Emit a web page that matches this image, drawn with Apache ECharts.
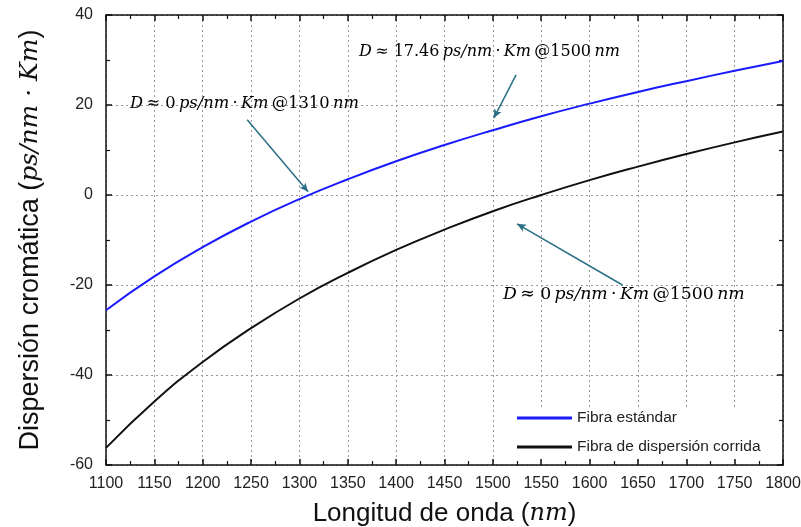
<!DOCTYPE html>
<html>
<head>
<meta charset="utf-8">
<script src="https://cdn.jsdelivr.net/npm/echarts@6/dist/echarts.min.js"></script>
<style>
  html, body { margin: 0; padding: 0; background: #fff; }
  #main { width: 801px; height: 527px; }
</style>
</head>
<body>
<div id="main"></div>
<script>
// longitudes de onda (nm) y curvas
var lambda = [1100, 1150, 1200, 1250, 1300, 1350, 1400, 1450, 1500, 1550, 1600, 1650, 1700, 1750, 1800];
var fibraEstandar = [-25.6, -18.1, -11.6, -5.9, -0.9, 3.5, 7.5, 11.1, 14.4, 17.5, 20.3, 22.9, 25.3, 27.6, 29.8];
var fibraCorrida = [-56.2, -45.9, -37.1, -29.6, -23.0, -17.3, -12.2, -7.7, -3.6, 0.0, 3.3, 6.3, 9.1, 11.7, 14.1];
// flechas de las anotaciones [x0, y0, x1, y1] en unidades de datos
var flechas = [
  [1246, 16.7, 1309, 0.7],
  [1524, 26.7, 1501, 17.1],
  [1634, -20.0, 1525, -6.4]
];

var myChart = echarts.init(document.getElementById('main'));

function pares(xs, ys) {
  return xs.map(function (x, i) { return [x, ys[i]]; });
}

function mathRich(size) {
  return {
    i: { fontFamily: 'DejaVu Serif', fontStyle: 'italic', fontSize: size, color: '#111' },
    n: { fontFamily: 'DejaVu Serif', fontSize: size, color: '#111' }
  };
}

var axisCommon = {
  axisLine: { show: true, onZero: false, lineStyle: { color: '#111', width: 1.5 } },
  axisTick: { show: true, inside: true, length: 6, lineStyle: { color: '#111', width: 1.5 } },
  minorTick: { show: true, splitNumber: 2, length: 4, lineStyle: { color: '#111', width: 1.2 } }
};

var nameStyle = {
  fontFamily: 'Liberation Sans', fontSize: 26, color: '#111',
  rich: { i: { fontFamily: 'DejaVu Serif', fontStyle: 'italic', fontSize: 24, color: '#111' } }
};

option = {
  animation: false,
  backgroundColor: '#fff',
  grid: { left: 106, right: 18, top: 15, bottom: 62, containLabel: false, outerBoundsMode: 'none' },
  legend: {
    orient: 'vertical',
    left: 513,
    top: 407,
    itemWidth: 55,
    itemHeight: 3,
    itemGap: 13,
    icon: 'rect',
    padding: [3, 4, 3, 4],
    backgroundColor: '#fff',
    textStyle: { fontFamily: 'Liberation Sans', fontSize: 15.5, color: '#222' },
    data: ['Fibra estándar', 'Fibra de dispersión corrida']
  },
  xAxis: [
    Object.assign({}, axisCommon, {
      type: 'value', min: 1100, max: 1800, interval: 50,
      name: 'Longitud de onda ({i|nm})',
      nameLocation: 'middle', nameGap: 36,
      nameTextStyle: nameStyle,
      axisLabel: { fontFamily: 'Liberation Sans', fontSize: 16, color: '#222', margin: 11,
        formatter: function (v) { return String(v); } },
      splitLine: { show: true, lineStyle: { color: '#999', type: [2, 3], width: 1 } }
    }),
    Object.assign({}, axisCommon, {
      type: 'value', min: 1100, max: 1800, interval: 50, position: 'top',
      axisLabel: { show: false }, splitLine: { show: false }
    })
  ],
  yAxis: [
    Object.assign({}, axisCommon, {
      type: 'value', min: -60, max: 40, interval: 20,
      name: 'Dispersión cromática ({i|ps/nm · Km})',
      nameLocation: 'middle', nameGap: 62, nameRotate: 90,
      nameTextStyle: Object.assign({}, nameStyle, { fontSize: 27,
        rich: { i: { fontFamily: 'DejaVu Serif', fontStyle: 'italic', fontSize: 25, color: '#111' } } }),
      axisLabel: { fontFamily: 'Liberation Sans', fontSize: 16, color: '#222', margin: 13 },
      splitLine: { show: true, lineStyle: { color: '#999', type: [2, 3], width: 1 } }
    }),
    Object.assign({}, axisCommon, {
      type: 'value', min: -60, max: 40, interval: 20, position: 'right',
      axisLabel: { show: false }, splitLine: { show: false }
    })
  ],
  series: [
    {
      name: 'Fibra estándar',
      type: 'line',
      smooth: true,
      symbol: 'none',
      color: '#1a1aff',
      lineStyle: { width: 2, color: '#1a1aff' },
      data: pares(lambda, fibraEstandar),
      markLine: {
        silent: true,
        symbol: ['none', 'arrow'],
        symbolSize: [6, 9],
        label: { show: false },
        lineStyle: { color: '#2a6f86', width: 1.5, type: 'solid' },
        data: flechas.map(function (f) {
          return [{ coord: [f[0], f[1]] }, { coord: [f[2], f[3]] }];
        })
      },
      z: 3
    },
    {
      name: 'Fibra de dispersión corrida',
      type: 'line',
      smooth: true,
      symbol: 'none',
      color: '#111',
      lineStyle: { width: 2, color: '#111' },
      data: pares(lambda, fibraCorrida),
      z: 3
    }
  ],
  graphic: [
    {
      type: 'text', left: 359, top: 44, z: 10,
      style: { text: '{i|D} {n|≈ 17.46} {i|ps/nm} {n|·} {i|Km} {n|@1500} {i|nm}', rich: mathRich(16) }
    },
    {
      type: 'text', left: 130, top: 96, z: 10,
      style: { text: '{i|D} {n|≈ 0} {i|ps/nm} {n|·} {i|Km} {n|@1310} {i|nm}', rich: mathRich(16.3) }
    },
    {
      type: 'text', left: 503, top: 286, z: 10,
      style: { text: '{i|D} {n|≈ 0} {i|ps/nm} {n|·} {i|Km} {n|@1500} {i|nm}', rich: mathRich(17.3) }
    }
  ]
};

myChart.setOption(option);
</script>
</body>
</html>
